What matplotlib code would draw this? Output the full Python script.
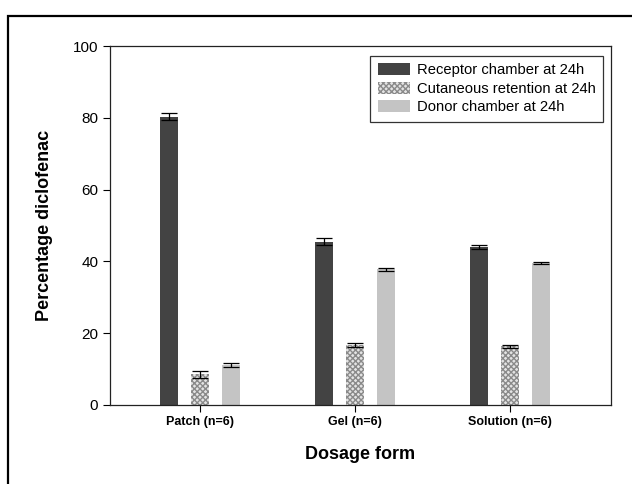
import matplotlib.pyplot as plt
from matplotlib.patches import Rectangle
import numpy as np

plt.rcParams['font.family'] = ['Liberation Sans', 'DejaVu Sans']
plt.rcParams['hatch.linewidth'] = 1.0

# Data
groups = ['Patch (n=6)', 'Gel (n=6)', 'Solution (n=6)']
series = ['Receptor chamber at 24h', 'Cutaneous retention at 24h', 'Donor chamber at 24h']
receptor = [80.3, 45.5, 44.0]
receptor_err = [1.0, 0.9, 0.6]
cutaneous = [8.5, 16.7, 16.3]
cutaneous_err = [1.0, 0.5, 0.4]
donor = [11.1, 37.8, 39.6]
donor_err = [0.5, 0.5, 0.3]

x = np.arange(len(groups))
width = 0.118
offset = 0.2

fig = plt.figure(figsize=(6.32, 4.84), dpi=100)
ax = fig.add_axes([110/632, 1 - 405/484, (611-110)/632, (405-46)/484])

err_kw = dict(ecolor='black', capsize=6, elinewidth=0.9, capthick=0.9)
ax.bar(x - offset, receptor, width, yerr=receptor_err, color='#434343',
       label=series[0], error_kw=err_kw)
ax.bar(x, cutaneous, width, yerr=cutaneous_err, color='#e4e4e4',
       edgecolor='#8a8a8a', linewidth=0, hatch='xxxxxx',
       label=series[1], error_kw=err_kw)
ax.bar(x + offset, donor, width, yerr=donor_err, color='#c4c4c4',
       label=series[2], error_kw=err_kw)

ax.set_xlim(-0.58, 2.65)
ax.set_ylim(0, 100)
ax.set_yticks([0, 20, 40, 60, 80, 100])
ax.set_xticks(x)
ax.set_xticklabels(groups, fontsize=9, fontweight='bold')
ax.tick_params(axis='y', labelsize=11, length=5, width=0.8, direction='out')
ax.tick_params(axis='x', length=5, width=0.8, direction='out', pad=3)
for s in ax.spines.values():
    s.set_linewidth(0.9)
    s.set_color('#222222')

ax.set_ylabel('Percentage diclofenac', fontsize=13, fontweight='bold', labelpad=14)
ax.set_xlabel('Dosage form', fontsize=13, fontweight='bold', labelpad=13)

leg = ax.legend(loc='upper right', bbox_to_anchor=(0.984, 0.973), fontsize=10.6,
                frameon=True, fancybox=False, edgecolor='black',
                handlelength=2.2, handleheight=0.9, borderpad=0.5,
                labelspacing=0.3, handletextpad=0.45, borderaxespad=0)
leg.get_frame().set_linewidth(0.9)

# outer frame around the figure
fig.patches.append(Rectangle((8/632, -0.1), 1.2, 1 - 16/484 + 0.1,
                             transform=fig.transFigure, fill=False,
                             edgecolor='black', linewidth=1.6))

fig.savefig('out.png', dpi=100)
